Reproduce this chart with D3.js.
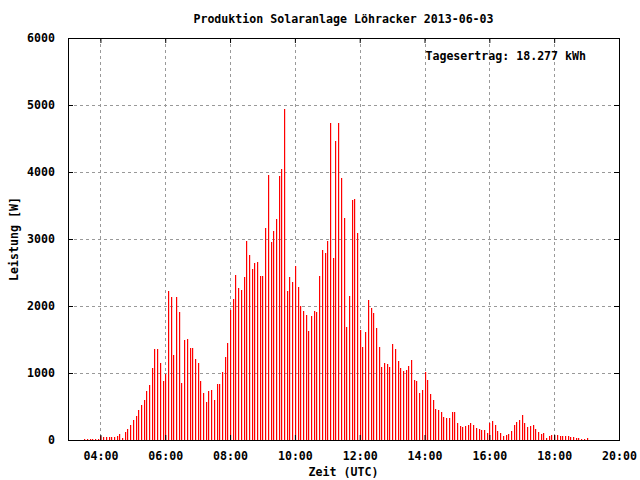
<!DOCTYPE html>
<html>
<head>
<meta charset="utf-8">
<script src="https://cdn.jsdelivr.net/npm/d3@7"></script>
<style>
  html, body { margin: 0; padding: 0; background: #fff; }
  text { font-family: "DejaVu Sans Mono", "Liberation Mono", monospace; font-weight: bold; font-size: 11.6px; fill: #000; }
</style>
</head>
<body>
<svg id="chart" width="640" height="480"></svg>
<script>
const title = "Produktion Solaranlage Löhracker 2013-06-03";
const legendText = "Tagesertrag: 18.277 kWh";
const xLabel = "Zeit (UTC)";
const yLabel = "Leistung [W]";

const times = [
 "03:30","03:35","03:40","03:45","03:50","03:55",
 "04:00","04:05","04:10","04:15","04:20","04:25","04:30","04:35","04:40","04:45","04:50","04:55",
 "05:00","05:05","05:10","05:15","05:20","05:25","05:30","05:35","05:40","05:45","05:50","05:55",
 "06:00","06:05","06:10","06:15","06:20","06:25","06:30","06:35","06:40","06:45","06:50","06:55",
 "07:00","07:05","07:10","07:15","07:20","07:25","07:30","07:35","07:40","07:45","07:50","07:55",
 "08:00","08:05","08:10","08:15","08:20","08:25","08:30","08:35","08:40","08:45","08:50","08:55",
 "09:00","09:05","09:10","09:15","09:20","09:25","09:30","09:35","09:40","09:45","09:50","09:55",
 "10:00","10:05","10:10","10:15","10:20","10:25","10:30","10:35","10:40","10:45","10:50","10:55",
 "11:00","11:05","11:10","11:15","11:20","11:25","11:30","11:35","11:40","11:45","11:50","11:55",
 "12:00","12:05","12:10","12:15","12:20","12:25","12:30","12:35","12:40","12:45","12:50","12:55",
 "13:00","13:05","13:10","13:15","13:20","13:25","13:30","13:35","13:40","13:45","13:50","13:55",
 "14:00","14:05","14:10","14:15","14:20","14:25","14:30","14:35","14:40","14:45","14:50","14:55",
 "15:00","15:05","15:10","15:15","15:20","15:25","15:30","15:35","15:40","15:45","15:50","15:55",
 "16:00","16:05","16:10","16:15","16:20","16:25","16:30","16:35","16:40","16:45","16:50","16:55",
 "17:00","17:05","17:10","17:15","17:20","17:25","17:30","17:35","17:40","17:45","17:50","17:55",
 "18:00","18:05","18:10","18:15","18:20","18:25","18:30","18:35","18:40","18:45","18:50","18:55",
 "19:00"
];

const power = [
 15,15,20,20,20,20,
 60,45,45,45,45,45,60,90,30,120,165,225,
 300,360,450,525,600,725,815,1070,1365,1365,1145,875,
 980,2225,2135,1265,2135,1910,845,1490,1505,1370,1370,1205,
 1145,875,695,560,725,740,590,830,830,1010,1235,1445,
 1940,2105,2465,2270,2240,2435,2975,2765,2555,2645,2660,2450,
 2450,3170,3960,2960,3125,3305,3945,4050,4945,2230,2440,2365,
 2600,2290,2005,1930,1870,1630,1855,1930,1915,2455,2840,2795,
 2975,4735,2720,4470,4735,3915,3320,1690,2155,3585,3600,3095,
 1645,1395,1615,2095,1975,1900,1675,1395,1095,1155,1140,1095,
 1440,1365,1185,1080,1035,1050,1110,1200,900,885,705,750,
 1020,900,690,600,470,455,425,350,335,335,425,425,
 260,215,200,215,230,260,230,185,170,155,155,110,
 260,290,230,140,110,65,80,95,140,230,275,305,
 380,260,200,215,230,170,125,95,110,35,65,80,
 80,80,65,65,65,65,50,50,35,35,20,20,
 35
];

const xTickLabels = ["04:00","06:00","08:00","10:00","12:00","14:00","16:00","18:00","20:00"];
const yTickValues = [0,1000,2000,3000,4000,5000,6000];
const xDomainLabels = ["03:00","20:00"];

const toMin = s => { const [h,m] = s.split(":").map(Number); return h*60+m; };
const data = times.map((t,i) => ({ t: toMin(t), v: power[i] }));

const L = 68, R = 619, T = 38, B = 440;
const svg = d3.select("#chart");

const x = d3.scaleLinear().domain(xDomainLabels.map(toMin)).range([L, R]);
const y = d3.scaleLinear().domain([0, 6000]).range([B, T]);

// grid
const grid = svg.append("g").attr("class","grid");
grid.selectAll("line.gx").data(xTickLabels.slice(0,-1)).enter().append("line")
  .attr("x1", d => Math.round(x(toMin(d))) + 0.5).attr("x2", d => Math.round(x(toMin(d))) + 0.5)
  .attr("y1", T).attr("y2", B)
  .attr("stroke", "#999").attr("stroke-width", 1).attr("stroke-dasharray", "3,3");
grid.selectAll("line.gy").data(yTickValues.slice(1,-1)).enter().append("line")
  .attr("x1", L).attr("x2", R)
  .attr("y1", d => Math.round(y(d)) + 0.5).attr("y2", d => Math.round(y(d)) + 0.5)
  .attr("stroke", "#999").attr("stroke-width", 1).attr("stroke-dasharray", "3,3");

// bars (impulses)
svg.append("g").selectAll("rect").data(data).enter().append("rect")
  .attr("x", d => Math.round(x(d.t)))
  .attr("y", d => Math.round(y(d.v)))
  .attr("width", 1.2)
  .attr("height", d => B - Math.round(y(d.v)))
  .attr("fill", "#ff0000");

// axes with inward ticks
const xAxisB = d3.axisBottom(x).tickValues(xTickLabels.map(toMin)).tickFormat((d,i) => xTickLabels[i]).tickSizeInner(-5).tickSizeOuter(0).tickPadding(12);
const gxB = svg.append("g").attr("transform", `translate(0,${B})`).call(xAxisB);
const xAxisT = d3.axisTop(x).tickValues(xTickLabels.map(toMin)).tickFormat("").tickSizeInner(-5).tickSizeOuter(0);
const gxT = svg.append("g").attr("transform", `translate(0,${T})`).call(xAxisT);
const yAxisL = d3.axisLeft(y).tickValues(yTickValues).tickFormat(d3.format("d")).tickSizeInner(-5).tickSizeOuter(0).tickPadding(13);
const gyL = svg.append("g").attr("transform", `translate(${L},0)`).call(yAxisL);
const yAxisR = d3.axisRight(y).tickValues(yTickValues).tickFormat("").tickSizeInner(-5).tickSizeOuter(0);
const gyR = svg.append("g").attr("transform", `translate(${R},0)`).call(yAxisR);
[gxB,gxT,gyL,gyR].forEach(g => {
  g.select(".domain").remove();
  g.selectAll("line").attr("stroke","#000");
  g.selectAll("text").attr("font-family", null).attr("font-size", null).attr("fill","#000");
});

// border
svg.append("rect").attr("x", L + 0.5).attr("y", T + 0.5).attr("width", R - L).attr("height", B - T)
  .attr("fill","none").attr("stroke","#000").attr("stroke-width",1);

// texts
svg.append("text").attr("x", (L+R)/2).attr("y", 23).attr("text-anchor","middle").text(title);
svg.append("text").attr("x", 586).attr("y", 60).attr("text-anchor","end").text(legendText);
svg.append("text").attr("x", (L+R)/2).attr("y", 476).attr("text-anchor","middle").text(xLabel);
svg.append("text").attr("transform", `translate(18,${(T+B)/2}) rotate(-90)`).attr("text-anchor","middle").text(yLabel);
</script>
</body>
</html>
